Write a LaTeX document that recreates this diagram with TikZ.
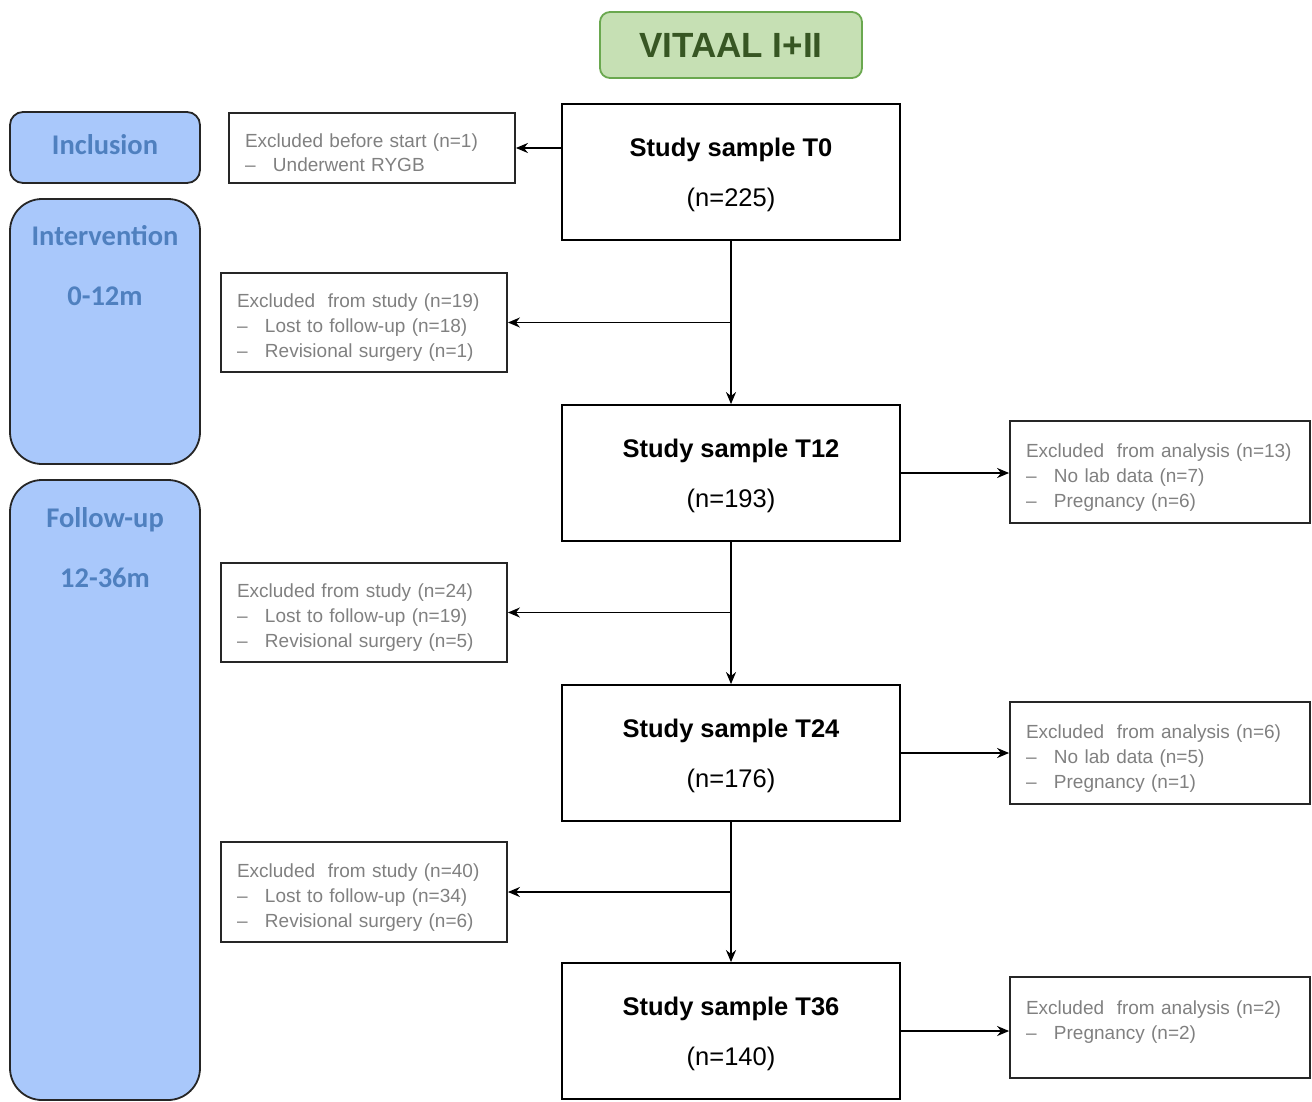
\documentclass[tikz,border=0pt]{standalone}
\usepackage{fontspec}
\setmainfont{Liberation Sans}
\newfontfamily\calib{Carlito}
\usetikzlibrary{arrows.meta}
\definecolor{sidefill}{HTML}{A9C8FB}
\definecolor{sidetxt}{HTML}{4F80BF}
\definecolor{greenfill}{HTML}{C6E0B4}
\definecolor{greenline}{HTML}{6AA84F}
\definecolor{greentxt}{HTML}{375623}
\definecolor{greytxt}{HTML}{808080}
\begin{document}
\begin{tikzpicture}[x=1pt,y=-1pt,
  mainbox/.style={draw=black,line width=1.8pt,minimum width=338pt,minimum height=136pt,inner sep=0pt},
  maintext/.style={align=center,inner sep=0pt,font=\fontsize{25.5}{50}\selectfont},
  exbox/.style={draw=black!85,line width=1.8pt,minimum width=286pt,inner xsep=16pt,inner ysep=0pt,text width=254pt,align=left,text=greytxt,font=\fontsize{19}{25}\selectfont,execute at begin node={\rule{0pt}{24pt}}},
  exrbox/.style={exbox,minimum width=300pt,text width=268pt},
  sidebox/.style={draw=black!85,line width=1.8pt,fill=sidefill,minimum width=190pt,inner sep=0pt},
  sidetext/.style={text=sidetxt,font=\calib\bfseries\fontsize{28.5}{60}\selectfont,align=center,inner sep=0pt},
  arr/.style={line width=1.8pt,-{Stealth[length=12pt,width=10pt]}}
]
\useasboundingbox (0,0) rectangle (1312,1101);
\newcommand{\dashitem}[1]{\makebox[28pt][l]{–}#1}

% title
\node[draw=greenline,line width=1.8pt,fill=greenfill,rounded corners=10pt,minimum width=262pt,minimum height=66pt,inner sep=0pt,text=greentxt,font=\bfseries\fontsize{35}{40}\selectfont] (title) at (731,45) {VITAAL I+II};

% side boxes
\node[sidebox,rounded corners=13pt,minimum height=71pt] (incl) at (105,147.5) {};
\node[sidetext] (inclT) at (105,145) {Inclusion};
\node[sidebox,rounded corners=32pt,minimum height=265pt] (interv) at (105,331.5) {};
\node[sidetext] (intervT) at (105,266) {Intervention\\0-12m};
\node[sidebox,rounded corners=32pt,minimum height=620pt] (follow) at (105,790) {};
\node[sidetext] (followT) at (105,548) {Follow-up\\12-36m};

% main boxes
\node[mainbox] (t0) at (731,172) {};
\node[maintext] (t0T) at (731,175) {\textbf{Study sample T0}\\(n=225)};
\node[mainbox] (t12) at (731,473) {};
\node[maintext] (t12T) at (731,476) {\textbf{Study sample T12}\\(n=193)};
\node[mainbox] (t24) at (731,753) {};
\node[maintext] (t24T) at (731,756) {\textbf{Study sample T24}\\(n=176)};
\node[mainbox] (t36) at (731,1031) {};
\node[maintext] (t36T) at (731,1034) {\textbf{Study sample T36}\\(n=140)};

% exclusion boxes left
\node[exbox,minimum height=70pt,font=\fontsize{19}{24}\selectfont] (exB) at (372,148) {Excluded before start (n=1)\\\dashitem{Underwent RYGB}};
\node[exbox,minimum height=99pt] (ex1) at (364,322.5) {Excluded~ from study (n=19)\\\dashitem{Lost to follow-up (n=18)}\\\dashitem{Revisional surgery (n=1)}};
\node[exbox,minimum height=99pt] (ex2) at (364,612.5) {Excluded from study (n=24)\\\dashitem{Lost to follow-up (n=19)}\\\dashitem{Revisional surgery (n=5)}};
\node[exbox,minimum height=100pt] (ex3) at (364,892) {Excluded~ from study (n=40)\\\dashitem{Lost to follow-up (n=34)}\\\dashitem{Revisional surgery (n=6)}};

% exclusion boxes right
\node[exrbox,minimum height=102pt] (ra1) at (1160,472) {Excluded~ from analysis (n=13)\\\dashitem{No lab data (n=7)}\\\dashitem{Pregnancy (n=6)}};
\node[exrbox,minimum height=102pt] (ra2) at (1160,753) {Excluded~ from analysis (n=6)\\\dashitem{No lab data (n=5)}\\\dashitem{Pregnancy (n=1)}};
\node[exrbox,minimum height=101pt] (ra3) at (1160,1027.5) {Excluded~ from analysis (n=2)\\\dashitem{Pregnancy (n=2)}\\\mbox{}};

% connectors
\draw[arr] (t0.west |- exB.east) -- (exB.east);
\draw[arr] (t0) -- (t12);
\draw[arr] (t0.south |- ex1.east) -- (ex1.east);
\draw[arr] (t12) -- (t24);
\draw[arr] (t12.south |- ex2.east) -- (ex2.east);
\draw[arr] (t24) -- (t36);
\draw[arr] (t24.south |- ex3.east) -- (ex3.east);
\draw[arr] (t12.east) -- (ra1.west |- t12.east);
\draw[arr] (t24.east) -- (ra2.west |- t24.east);
\draw[arr] (t36.east) -- (ra3.west |- t36.east);
\end{tikzpicture}
\end{document}
